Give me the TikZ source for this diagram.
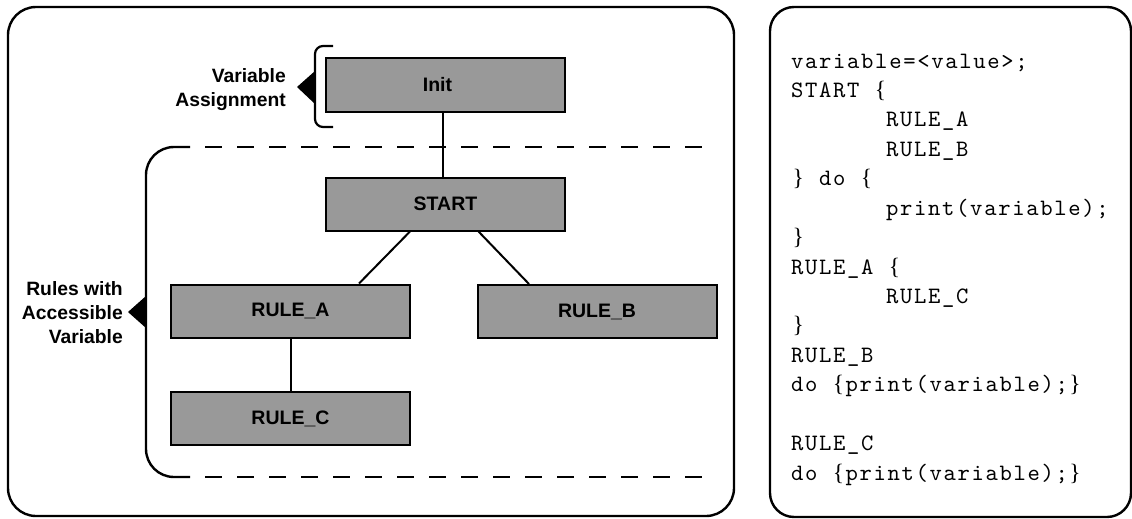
\documentclass[tikz,border=0pt]{standalone}
\usepackage{fontspec}
\setmainfont{Liberation Sans}
\newfontfamily\codefont{lmmono10-regular.otf}[LetterSpace=7.1]
\newfontfamily\bracefont{Liberation Serif}
\definecolor{boxgray}{HTML}{999999}
% braces of the listing, set in a serif face inside a monospace cell
\newcommand{\obr}{\makebox[14pt]{\bracefont\{}}
\newcommand{\cbr}{\makebox[14pt]{\bracefont\}}}
\newcommand{\cgap}{\hspace*{14pt}}
\tikzset{
  frame/.style={draw, line width=2.4pt, rounded corners=28pt},
  blk/.style={draw, line width=2pt, fill=boxgray, rectangle, inner sep=0pt,
    minimum width=239pt, minimum height=53pt,
    font=\bfseries\fontsize{19.5}{24}\selectfont},
  link/.style={line width=2pt},
  side/.style={align=right, inner sep=0pt, anchor=east,
    font=\bfseries\fontsize{19.3}{24}\selectfont},
  code/.style={anchor=base west, inner sep=0pt,
    font=\codefont\fontsize{23.5}{29.4}\selectfont},
  scopeline/.style={line width=2.4pt},
}
\begin{document}
\begin{tikzpicture}[x=1pt,y=-1pt]
\useasboundingbox (0,0) rectangle (1132,519);

% outer panels
\draw[frame] (8,7) rectangle (734,516);
\draw[frame, rounded corners=24pt] (770,7) rectangle (1131,517);

% scope of the rules: solid left side, dashed top and bottom
\draw[scopeline, rounded corners=28pt] (190,147) -- (146,147) -- (146,477) -- (190,477);
\draw[scopeline, dash pattern=on 17pt off 15pt, dash phase=17pt] (190,147) -- (702,147);
\draw[scopeline, dash pattern=on 17pt off 15pt, dash phase=17pt] (190,477) -- (702,477);
\fill (128,312) -- (146,296) -- (146,328) -- cycle;
\node[side] (rulesnote) at (123,312.3) {Rules with\\Accessible\\Variable};

% bracket around the initialisation
\draw[line width=2.2pt, rounded corners=8pt] (333,46) -- (315,46) -- (315,127) -- (333,127);
\fill (297,87) -- (315,71) -- (315,104) -- cycle;
\node[side] (assignnote) at (286,90) {Variable\\Assignment};

% rule tree
\node[blk] (init) at (445.5,85) {Init\kern16pt};
\node[blk] (start) at (445.5,204) {START};
\node[blk] (ra) at (290.5,311) {RULE\_A};
\node[blk] (rb) at (597,311.5) {RULE\_B};
\node[blk] (rc) at (290.5,418.5) {RULE\_C};

\draw[link] ([xshift=-2.5pt]start.north) -- ([xshift=-2.5pt]init.south);
\draw[link] ([xshift=-35.5pt]start.south) -- ([xshift=68.5pt]ra.north);
\draw[link] ([xshift=33pt]start.south) -- ([xshift=-68pt]rb.north);
\draw[link] (ra.south) -- (rc.north);

% listing
\node[code] (c1)  at (791,68)    {variable=<value>;};
\node[code] (c2)  at (791,97.4)  {START\cgap\obr};
\node[code] (c3)  at (886,126.9) {RULE\_A};
\node[code] (c4)  at (886,156.3) {RULE\_B};
\node[code] (c5)  at (791,185.7) {\cbr\cgap do\cgap\obr};
\node[code] (c6)  at (886,215.2) {print(variable);};
\node[code] (c7)  at (791,244.6) {\cbr};
\node[code] (c8)  at (791,274.0) {RULE\_A\cgap\obr};
\node[code] (c9)  at (886,303.4) {RULE\_C};
\node[code] (c10) at (791,332.9) {\cbr};
\node[code] (c11) at (791,362.3) {RULE\_B};
\node[code] (c12) at (791,391.7) {do\cgap\obr print(variable);\cbr};
\node[code] (c14) at (791,450.6) {RULE\_C};
\node[code] (c15) at (791,480.0) {do\cgap\obr print(variable);\cbr};
\end{tikzpicture}
\end{document}
